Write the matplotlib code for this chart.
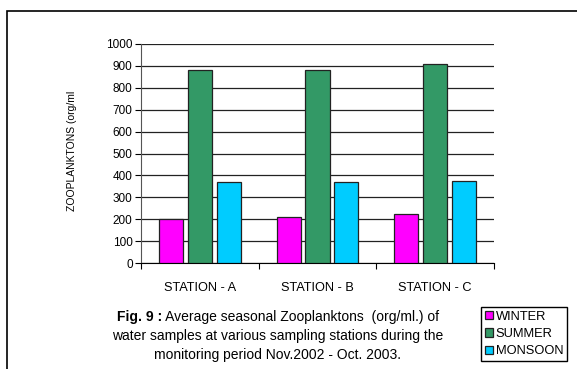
import numpy as np
import matplotlib.pyplot as plt
from matplotlib.patches import Rectangle

plt.rcParams['font.family'] = ['Liberation Sans', 'DejaVu Sans']

stations = ["STATION - A", "STATION - B", "STATION - C"]
seasons = ["WINTER", "SUMMER", "MONSOON"]
winter = [201, 212, 222]
summer = [882, 880, 909]
monsoon = [371, 372, 373]
colors = ["#FF00FF", "#339966", "#00CCFF"]
yticks = [0, 100, 200, 300, 400, 500, 600, 700, 800, 900, 1000]

W, H = 577, 369
fig = plt.figure(figsize=(W / 100, H / 100), dpi=100)

# outer border (only the top and left edges fall inside the image)
fig.patches.append(Rectangle((7 / W, -0.1), 1.2, (H - 11) / H + 0.1,
                             transform=fig.transFigure, fill=False,
                             edgecolor="black", lw=1.2))

ax = fig.add_axes([141 / W, (H - 263) / H, (494 - 141) / W, (263 - 44) / H])
x = np.arange(len(stations))
width = 0.205
step = 0.245
handles = []
for i, (vals, c) in enumerate(zip([winter, summer, monsoon], colors)):
    b = ax.bar(x + (i - 1) * step, vals, width, color=c, edgecolor="#222222",
               lw=0.9, zorder=3, label=seasons[i])
    handles.append(b)

ax.set_xlim(-0.5, 2.5)
ax.set_ylim(0, 1000)
ax.set_yticks(yticks)
ax.set_yticklabels([str(v) for v in yticks], fontsize=8.5)
ax.yaxis.grid(True, color="#222222", lw=0.9)
ax.set_axisbelow(True)
ax.tick_params(axis="y", length=4, width=0.8, pad=2)

ax.set_xticks(x)
ax.set_xticklabels(stations, fontsize=9.2)
ax.set_xticks([-0.5, 0.5, 1.5, 2.5], minor=True)
ax.tick_params(axis="x", which="major", length=0, pad=14)
ax.tick_params(axis="x", which="minor", length=4, width=0.8)
for s in ["top", "right"]:
    ax.spines[s].set_visible(False)
ax.spines["left"].set_color("#555555")
ax.spines["bottom"].set_color("black")

# y axis label
fig.text(72 / W, (H - 151) / H, "ZOOPLANKTONS (org/ml", rotation=90,
         ha="center", va="center", fontsize=7.5)

# caption, first line has a bold lead-in
cx = 278 / W
fs = 10
renderer = fig.canvas.get_renderer()
bold = fig.text(0, (H - 317) / H, "Fig. 9 :", fontweight="bold",
                ha="left", va="center", fontsize=fs)
rest = fig.text(0, (H - 317) / H, " Average seasonal Zooplanktons  (org/ml.) of",
                ha="left", va="center", fontsize=fs)
wb = bold.get_window_extent(renderer).width
wr = rest.get_window_extent(renderer).width
x0 = cx * W - (wb + wr) / 2
bold.set_x(x0 / W)
rest.set_x((x0 + wb) / W)
fig.text(cx, (H - 336) / H, "water samples at various sampling stations during the",
         ha="center", va="center", fontsize=fs)
fig.text(cx, (H - 355) / H, "monitoring period Nov.2002 - Oct. 2003.",
         ha="center", va="center", fontsize=fs)

fig.legend(handles=handles, loc="upper left",
           bbox_to_anchor=(481 / W, (H - 307) / H), fontsize=9.3,
           frameon=True, fancybox=False, edgecolor="black", framealpha=1,
           handlelength=0.6, handleheight=0.6, handletextpad=0.25,
           borderpad=0.3, labelspacing=0.4, borderaxespad=0)

fig.savefig("out.png", dpi=100)
